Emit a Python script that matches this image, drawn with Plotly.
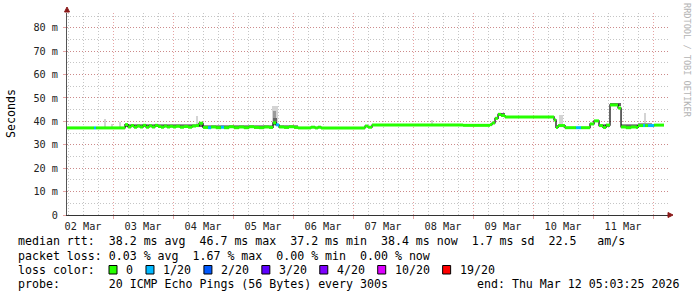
import plotly.graph_objects as go

# ---------------- data ----------------
day_labels = ["02 Mar", "03 Mar", "04 Mar", "05 Mar", "06 Mar",
              "07 Mar", "08 Mar", "09 Mar", "10 Mar", "11 Mar"]
day_label_pos = [2.5, 3.5, 4.5, 5.5, 6.5, 7.5, 8.5, 9.5, 10.5, 11.5]
y_tick_vals = [0, 10, 20, 30, 40, 50, 60, 70, 80]
y_tick_text = ["0", "10 m", "20 m", "30 m", "40 m", "50 m", "60 m", "70 m", "80 m"]

# median rtt steps (time in days of March, value in ms, loss count out of 20)
step_t = [2.233, 2.683, 2.717, 3.2, 3.25, 3.3, 3.35, 3.4, 3.45, 3.5, 3.55, 3.6,
          3.65, 3.7, 3.75, 3.8, 3.85, 3.9, 3.95, 4.0, 4.05, 4.117, 4.183, 4.25,
          4.317, 4.383, 4.433, 4.5, 4.583, 4.633, 4.717, 4.8, 4.85, 4.933, 5.017,
          5.1, 5.183, 5.267, 5.35, 5.433, 5.517, 5.6, 5.667, 5.717, 5.767, 5.85,
          5.933, 6.017, 6.083, 6.3, 6.367, 6.417, 6.467, 7.2, 7.25, 7.317, 8.833,
          9.283, 9.317, 9.367, 9.417, 9.467, 9.533, 10.35, 10.383, 10.417, 10.533,
          10.717, 10.8, 10.95, 11.017, 11.1, 11.167, 11.217, 11.283, 11.417,
          11.467, 11.55, 11.633, 11.717, 11.75, 11.833, 11.867, 11.917, 12.017]
step_med = [37.2, 37.2, 37.2, 38.6, 37.6, 38.2, 37.5, 38.0, 37.6, 38.3, 37.5, 38.1,
            37.6, 38.3, 37.8, 37.5, 38.0, 37.6, 37.9, 37.6, 37.9, 37.5, 37.8, 37.5,
            38.0, 38.2, 39.2, 37.4, 37.3, 37.6, 37.3, 37.5, 37.3, 37.7, 37.3,
            37.6, 37.3, 37.7, 37.4, 37.3, 37.6, 37.4, 39.4, 38.5, 37.6, 37.4,
            37.7, 37.4, 37.2, 37.5, 37.2, 37.5, 37.2, 38.0, 37.5, 38.4, 38.3,
            38.6, 39.3, 41.3, 43.0, 42.5, 41.9, 40.6, 37.4, 38.2, 37.3,
            37.3, 37.3, 38.9, 40.2, 38.2, 37.4, 38.4, 47.0, 45.7,
            37.6, 37.3, 37.6, 37.4, 38.2, 38.2, 38.2, 38.2, 38.4]
step_loss = [0, 1, 0, 0, 0, 0, 0, 0, 0, 0, 0, 0,
             0, 0, 0, 0, 0, 0, 0, 0, 0, 0, 0, 0,
             0, 0, 0, 0, 1, 0, 0, 1, 0, 0, 0,
             0, 0, 0, 0, 0, 0, 0, 0, 1, 0, 0,
             0, 0, 0, 0, 0, 0, 0, 0, 0, 0, 0,
             0, 0, 0, 0, 0, 0, 0, 0, 0, 0,
             1, 0, 0, 0, 0, 0, 0, 0, 0,
             0, 0, 0, 0, 0, 1, 0, 1, 0]
t_end = 12.183

# smoke (spread of the 20 pings): start, end, low, high (ms), shade 0=light 1=mid 2=dark
smoke_start = [2.85, 2.967, 3.1, 4.383, 5.65, 8.3, 10.433, 11.85,
               3.2, 4.5, 5.767, 11.1, 11.467, 11.75, 5.667,
               3.2, 4.433, 4.5, 5.767, 9.417, 11.1, 11.283, 11.467, 5.667]
smoke_end = [2.883, 3.0, 3.133, 4.417, 5.75, 8.333, 10.5, 11.883,
             4.5, 5.667, 6.083, 11.283, 11.75, 11.983, 5.717,
             4.5, 4.5, 5.667, 6.083, 9.533, 11.283, 11.467, 11.75, 5.733]
smoke_lo = [37.2, 37.2, 37.2, 37.5, 38.0, 38.4, 38.2, 38.2,
            37.5, 37.4, 37.5, 38.0, 37.5, 38.2, 38.5,
            37.5, 38.0, 37.4, 37.5, 42.3, 38.0, 46.5, 37.5, 38.5]
smoke_hi = [40.8, 38.7, 39.7, 42.3, 46.7, 40.6, 42.7, 43.6,
            39.0, 38.6, 38.5, 39.0, 38.7, 39.2, 44.5,
            38.5, 39.8, 38.2, 38.1, 43.6, 38.6, 47.7, 38.3, 41.5]
smoke_shade = [0, 0, 0, 0, 0, 0, 0, 0,
               1, 1, 1, 1, 1, 1, 1,
               2, 2, 2, 2, 2, 2, 2, 2, 2]
shade_colors = ["#d4d4d4", "#9a9a9a", "#666666"]

loss_levels = [0, 1, 2, 3, 4, 10, 19]
loss_labels = ["0", "1/20", "2/20", "3/20", "4/20", "10/20", "19/20"]
loss_colors = ["#26ff00", "#00b8ff", "#0059ff", "#5e00ff", "#7e00ff", "#dd00ff", "#ff0000"]

stat_rows = [
    "median rtt:  38.2 ms avg  46.7 ms max  37.2 ms min  38.4 ms now  1.7 ms sd  22.5   am/s",
    "packet loss: 0.03 % avg  1.67 % max  0.00 % min  0.00 % now",
    "loss color:",
    "probe:       20 ICMP Echo Pings (56 Bytes) every 300s",
]
end_text = "end: Thu Mar 12 05:03:25 2026"
watermark = "RRDTOOL / TOBI OETIKER"

# ---------------- layout geometry ----------------
W, H = 697, 297
L, R, T, B = 67, 29, 13, 82
PW, PH = W - L - R, H - T - B
MONO = "DejaVu Sans Mono"


def px2x(px):
    return (px - L) / PW


def py2y(py):
    return (H - B - py) / PH


fig = go.Figure()

# smoke bars
for shade in (0, 1, 2):
    idx = [i for i, s in enumerate(smoke_shade) if s == shade]
    fig.add_trace(go.Bar(
        x=[(smoke_start[i] + smoke_end[i]) / 2 for i in idx],
        width=[smoke_end[i] - smoke_start[i] for i in idx],
        base=[smoke_lo[i] for i in idx],
        y=[smoke_hi[i] - smoke_lo[i] for i in idx],
        marker=dict(color=shade_colors[shade], line=dict(width=0)),
        showlegend=False, hoverinfo="skip",
    ))

# black median step line (shows vertical connectors)
fig.add_trace(go.Scatter(
    x=step_t + [t_end], y=step_med + [step_med[-1]],
    mode="lines", line=dict(color="#000000", width=1.2, shape="hv"),
    showlegend=False, hoverinfo="skip",
))

# colored horizontal segments by loss
ends = step_t[1:] + [t_end]
for lvl, col in zip(loss_levels, loss_colors):
    xs, ys = [], []
    for t0, t1, v, ls in zip(step_t, ends, step_med, step_loss):
        if ls == lvl:
            xs += [t0, t1, None]
            ys += [v, v, None]
    if xs:
        fig.add_trace(go.Scatter(
            x=xs, y=ys, mode="lines",
            line=dict(color=col, width=3),
            showlegend=False, hoverinfo="skip",
        ))

# invisible trace for label axis
fig.add_trace(go.Scatter(x=day_label_pos, y=[None] * len(day_label_pos),
                         xaxis="x2", mode="markers", showlegend=False,
                         hoverinfo="skip"))

MGRID = "rgba(210,90,90,0.55)"
GRID = "rgba(150,150,150,0.55)"
DASH = "1px,2px"
x_range = [2.233, 2.233 + PW / 60.0]
y_range = [0, PH / 2.341]

fig.update_layout(
    width=W, height=H,
    margin=dict(l=L, r=R, t=T, b=B, pad=0),
    paper_bgcolor="#ffffff", plot_bgcolor="#ffffff",
    barmode="overlay", bargap=0,
    showlegend=False,
    font=dict(family=MONO, size=10.2, color="#222222"),
    xaxis=dict(
        range=x_range, tick0=0, dtick=1,
        showgrid=True, gridcolor=MGRID, griddash=DASH, gridwidth=1,
        minor=dict(dtick=0.25, tick0=0, showgrid=True, gridcolor=GRID,
                   griddash=DASH, gridwidth=1),
        showticklabels=False, ticks="outside", ticklen=3, tickcolor=MGRID,
        showline=True, linecolor="#333333", linewidth=1, zeroline=False,
        fixedrange=True,
    ),
    xaxis2=dict(
        range=x_range, overlaying="x", anchor="y", side="bottom",
        tickmode="array", tickvals=day_label_pos, ticktext=day_labels,
        showgrid=False, showline=False, ticks="", zeroline=False,
        tickfont=dict(family=MONO, size=10.2, color="#222222"),
        ticklabelstandoff=4,
    ),
    yaxis=dict(
        range=y_range, tickmode="array", tickvals=y_tick_vals, ticktext=y_tick_text,
        showgrid=True, gridcolor=MGRID, griddash=DASH, gridwidth=1,
        minor=dict(dtick=5, tick0=0, showgrid=True, gridcolor=GRID,
                   griddash=DASH, gridwidth=1),
        ticks="outside", ticklen=3, tickcolor=MGRID,
        showline=True, linecolor="#555555", linewidth=1, zeroline=False,
        tickfont=dict(family=MONO, size=10.2, color="#222222"),
        ticklabelstandoff=3,
    ),
)

shapes = []
# arrowheads
shapes.append(dict(type="path", xref="paper", yref="paper", xsizemode="pixel",
                   ysizemode="pixel", xanchor=0, yanchor=1,
                   path="M -2.5,1 L 2.5,1 L 0,6 Z",
                   fillcolor="#8b1a1a", line=dict(color="#8b1a1a", width=1)))
shapes.append(dict(type="path", xref="paper", yref="paper", xsizemode="pixel",
                   ysizemode="pixel", xanchor=1, yanchor=0,
                   path="M 0,-2.5 L 0,2.5 L 5,0 Z",
                   fillcolor="#8b1a1a", line=dict(color="#8b1a1a", width=1)))

annotations = []
row_y = [241.5, 256, 270, 284]
for txt, py in zip(stat_rows, row_y):
    annotations.append(dict(
        text=txt.replace(" ", "\u00a0"), xref="paper", yref="paper",
        x=px2x(16), y=py2y(py), xanchor="left", yanchor="middle",
        showarrow=False, font=dict(family=MONO, size=11.6, color="#000000")))
annotations.append(dict(
    text=end_text.replace(" ", "\u00a0"), xref="paper", yref="paper",
    x=px2x(681), y=py2y(row_y[3]), xanchor="right", yanchor="middle",
    showarrow=False, font=dict(family=MONO, size=11.6, color="#000000")))

# loss colour legend boxes
CHAR = 11.6 * 0.602
bx = 109
for lab, col in zip(loss_labels, loss_colors):
    shapes.append(dict(type="rect", xref="paper", yref="paper",
                       xsizemode="pixel", ysizemode="pixel",
                       xanchor=px2x(bx), yanchor=py2y(row_y[2]),
                       x0=0, x1=8, y0=-4, y1=4.5,
                       fillcolor=col, line=dict(color="#000000", width=1)))
    annotations.append(dict(
        text=lab, xref="paper", yref="paper", x=px2x(bx + 15), y=py2y(row_y[2]),
        xanchor="left", yanchor="middle", showarrow=False,
        font=dict(family=MONO, size=11.6, color="#000000")))
    bx += 15 + CHAR * len(lab) + 15

# axis title
annotations.append(dict(
    text="Seconds", xref="paper", yref="paper", x=px2x(11), y=py2y(114),
    xanchor="center", yanchor="middle", textangle=-90, showarrow=False,
    font=dict(family=MONO, size=11.6, color="#000000")))
# watermark
annotations.append(dict(
    text=watermark, xref="paper", yref="paper", x=px2x(687), y=py2y(60),
    xanchor="center", yanchor="middle", textangle=90, showarrow=False,
    font=dict(family=MONO, size=8.6, color="#b4b4b4")))

fig.update_layout(shapes=shapes, annotations=annotations)
fig.write_html("out.html")
